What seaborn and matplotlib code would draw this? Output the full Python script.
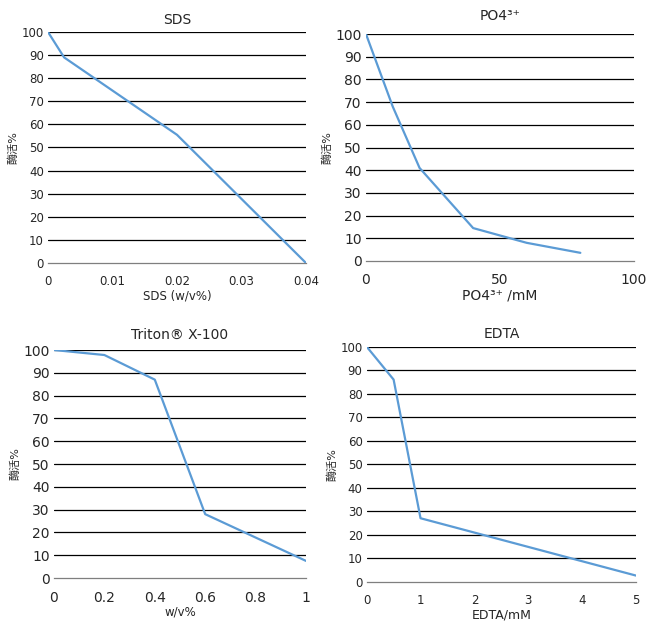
import pandas as pd
import matplotlib.pyplot as plt
import seaborn as sns

# data (relative enzyme activity, %)
sds_conc = [0, 0.0025, 0.02, 0.04]
sds_act = [100, 89, 55.5, 0]

po4_conc = [0, 10, 20, 40, 60, 80]
po4_act = [100, 68, 41, 14.5, 8, 3.6]

triton_conc = [0, 0.2, 0.4, 0.6, 1.0]
triton_act = [100, 97.8, 87, 28, 7.5]

edta_conc = [0, 0.5, 1, 5]
edta_act = [100, 86, 27, 2.6]

y_ticks = list(range(0, 101, 10))

sns.set_style("white")
plt.rcParams['font.family'] = ['DejaVu Sans', 'Noto Sans CJK SC']

line_color = '#5b9bd5'

fig = plt.figure(figsize=(6.52, 6.25), dpi=100)

panels = [
    # title, x, y, xlabel, rect, xlim, xticks, xticklabels, tick size, label size, title pad
    ('SDS', sds_conc, sds_act, 'SDS (w/v%)', [0.0736, 0.5792, 0.3957, 0.3696],
     (0, 0.04), [0, 0.01, 0.02, 0.03, 0.04], ['0', '0.01', '0.02', '0.03', '0.04'], 8.5, 8.5, 6),
    ('PO4³⁺', po4_conc, po4_act, 'PO4³⁺ /mM', [0.5613, 0.5824, 0.411, 0.3632],
     (0, 100), list(range(0, 101, 10)),
     ['0', '', '', '', '', '50', '', '', '', '', '100'], 10, 10, 10),
    ('Triton® X-100', triton_conc, triton_act, 'w/v%', [0.0828, 0.0752, 0.3865, 0.3648],
     (0, 1), [0, 0.2, 0.4, 0.6, 0.8, 1.0], ['0', '0.2', '0.4', '0.6', '0.8', '1'], 10, 8.5, 8),
    ('EDTA', edta_conc, edta_act, 'EDTA/mM', [0.5624, 0.0693, 0.413, 0.376],
     (0, 5), [0, 1, 2, 3, 4, 5], ['0', '1', '2', '3', '4', '5'], 8.5, 9, 6),
]

for title, xs, ys, xlabel, rect, xlim, xt, xtl, tsize, lsize, tpad in panels:
    ax = fig.add_axes(rect)
    df = pd.DataFrame({'x': xs, 'y': ys})
    sns.lineplot(data=df, x='x', y='y', ax=ax, color=line_color, linewidth=1.6, zorder=3)
    ax.set_xlim(*xlim)
    ax.set_ylim(0, 100)
    ax.set_yticks(y_ticks)
    ax.set_yticklabels([str(v) for v in y_ticks], fontsize=tsize)
    ax.set_xticks(xt)
    ax.set_xticklabels(xtl, fontsize=tsize)
    for v in y_ticks[1:]:
        ax.axhline(v, color='black', linewidth=0.9, zorder=1)
    for s in ['top', 'right', 'left']:
        ax.spines[s].set_visible(False)
    ax.spines['bottom'].set_color('#7f7f7f')
    ax.spines['bottom'].set_linewidth(0.9)
    ax.tick_params(axis='x', direction='out', length=4, width=0.8, color='#7f7f7f', pad=5)
    ax.tick_params(axis='y', length=0, pad=3)
    ax.set_title(title, fontsize=10, pad=tpad)
    ax.set_xlabel(xlabel, fontsize=lsize, labelpad=1)
    ax.set_ylabel('酶活%', fontsize=8, labelpad=2)
    ax.set_facecolor('none')

fig.savefig('out.png', dpi=100)
